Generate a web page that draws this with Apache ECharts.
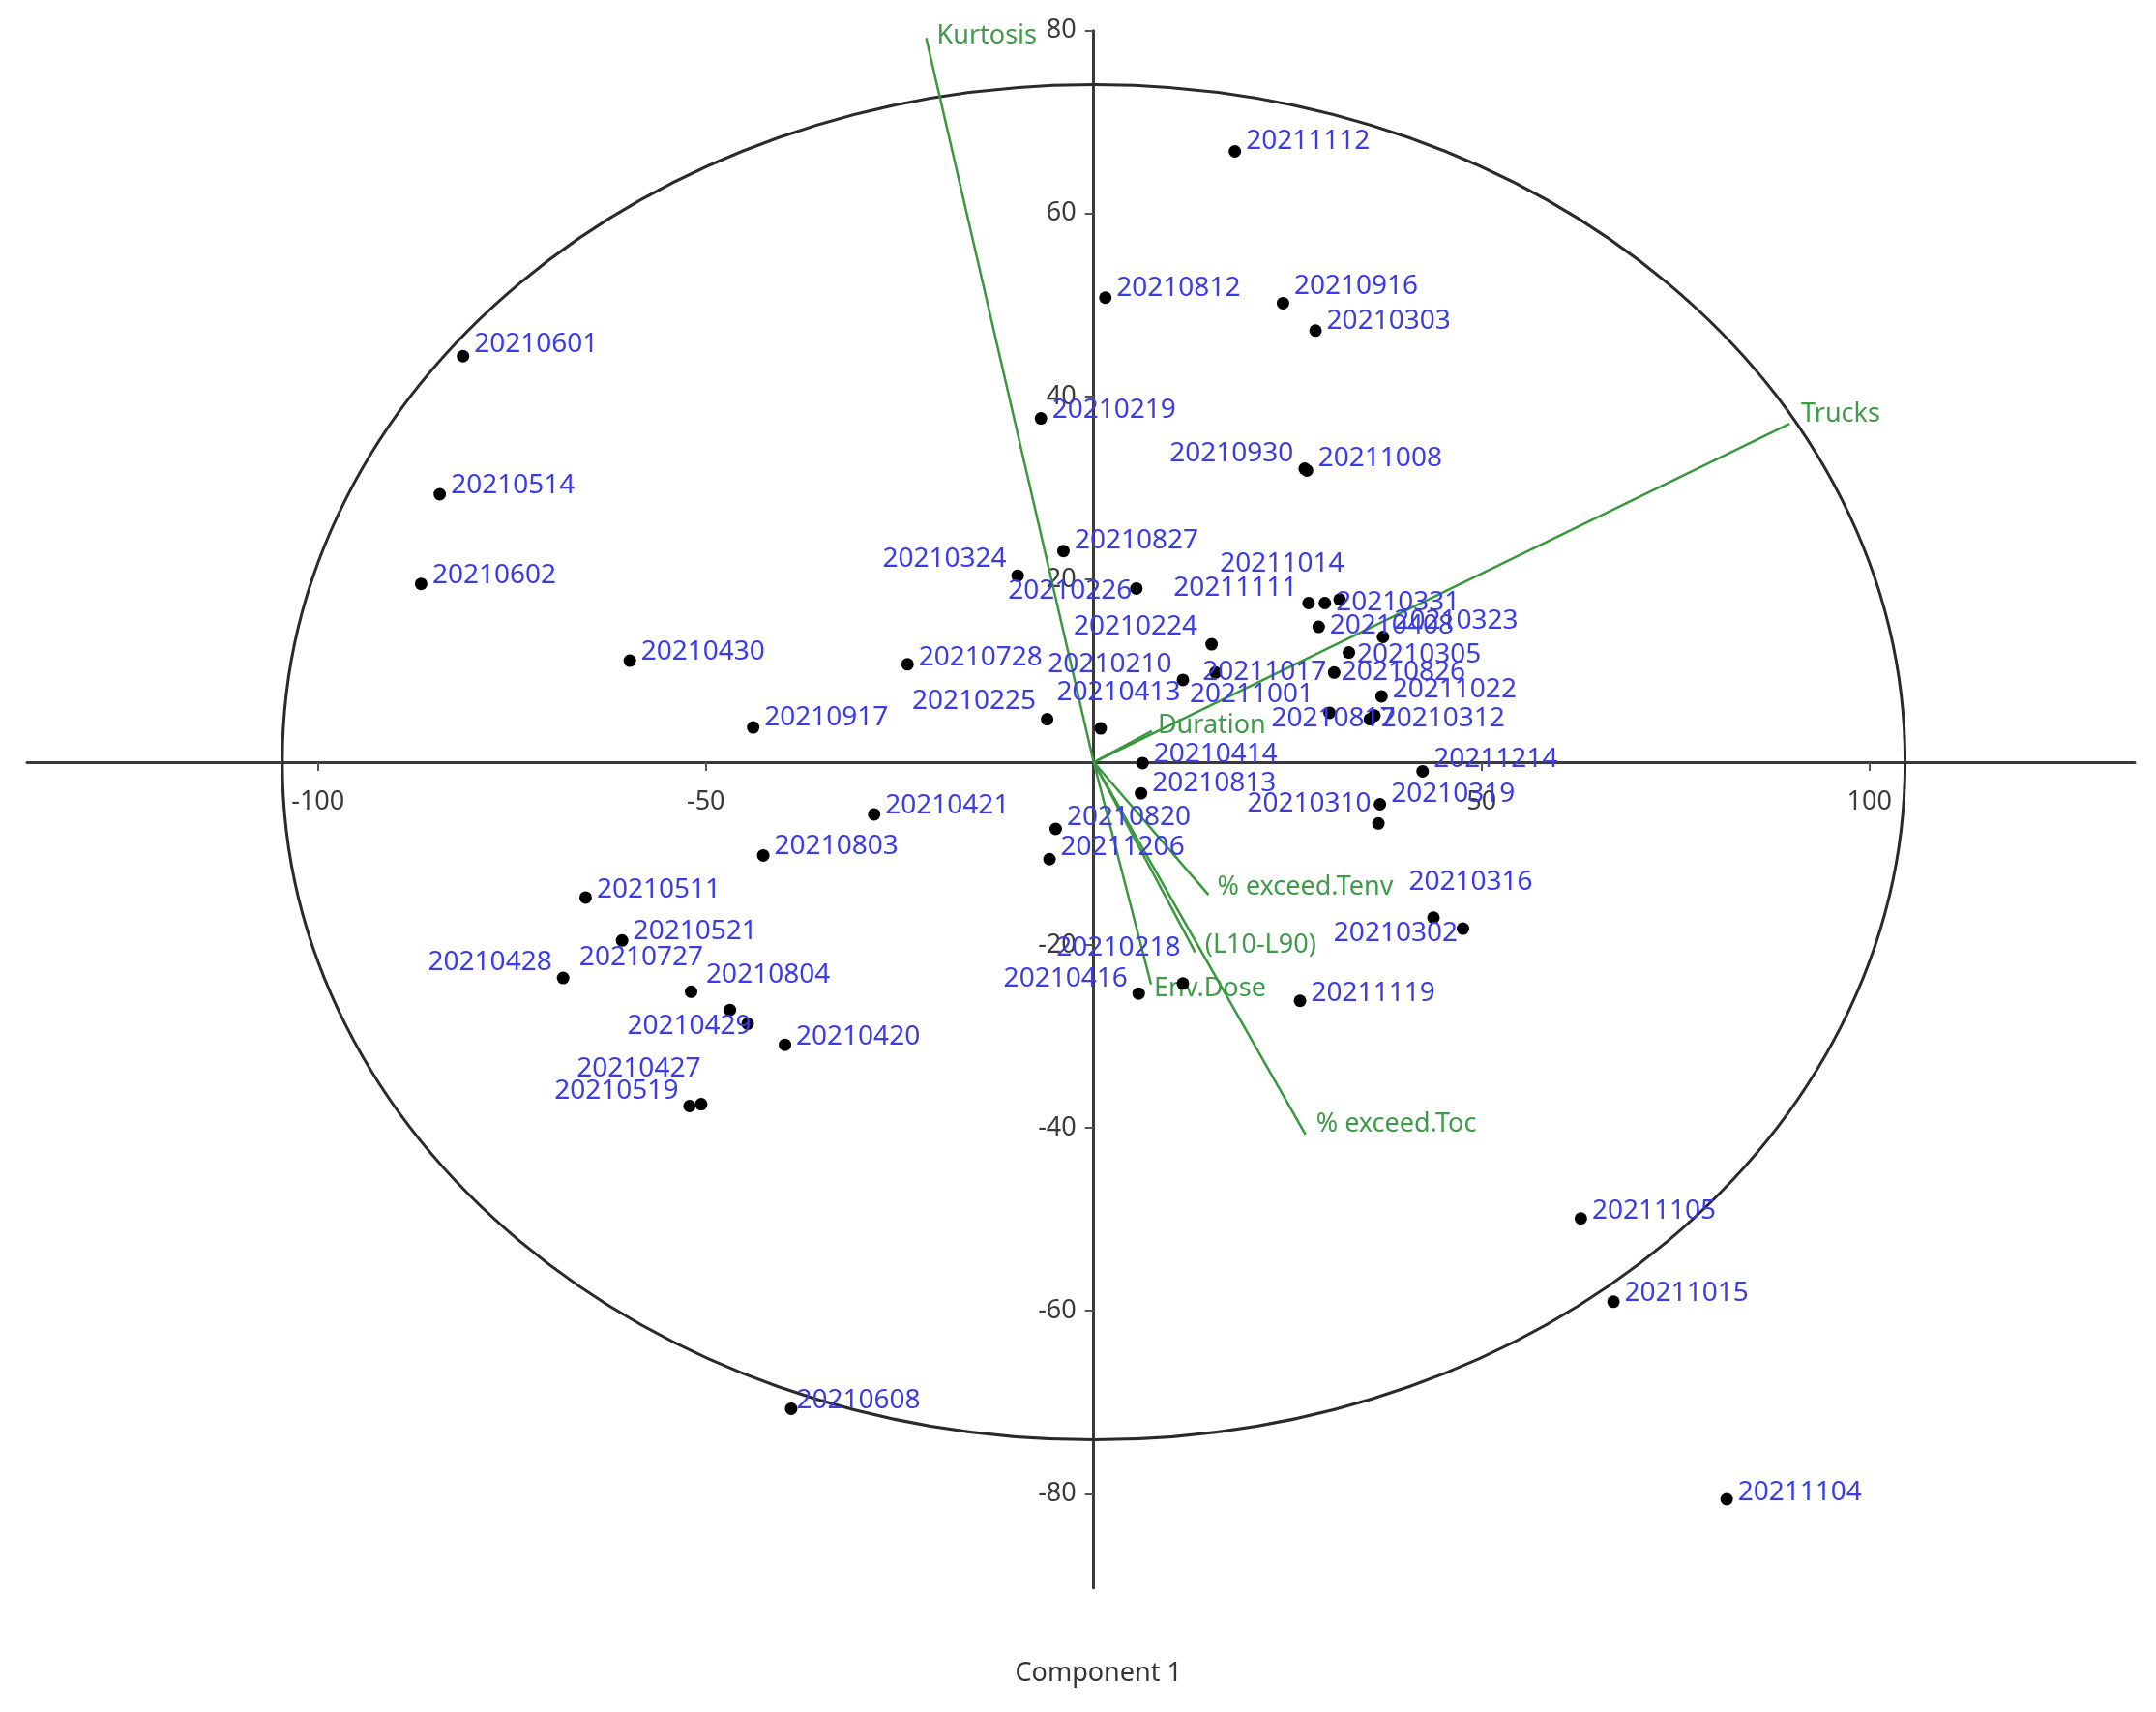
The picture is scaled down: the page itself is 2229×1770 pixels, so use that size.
<!DOCTYPE html>
<html>
<head>
<meta charset="utf-8">
<title>PCA biplot</title>
<script src="https://cdn.jsdelivr.net/npm/echarts@6.0.0/dist/echarts.min.js"></script>
<style>
  html, body { margin: 0; padding: 0; background: #fff; }
  #chart-container { width: 2229px; height: 1770px; }
</style>
</head>
<body>
<div id="chart-container"></div>
<script>
// sample scores (component 1, component 2)
var sampleNames = [
  '20211112', '20210812', '20210916', '20210303', '20210219', '20211008', '20210930',
  '20210601', '20210514', '20210602', '20210430', '20210917', '20210827', '20210324',
  '20210226', '20210224', '20210728', '20210210', '20210225', '20210413', '20210414',
  '20210813', '20210820', '20211206', '20211214', '20210319', '20210310', '20210316',
  '20210302', '20210218', '20210416', '20211119', '20210421', '20210803', '20210511',
  '20210521', '20210727', '20210804', '20210429', '20210420', '20210428', '20210427',
  '20210519', '20211105', '20211015', '20211104', '20210608', '20211111', '20210331',
  '20211014', '20210408', '20210323', '20210305', '20210826', '20211022', '20211001',
  '20210312', '20210817', '20211017'
];
var comp1 = [
  18.2, 1.5, 24.4, 28.6, -6.8, 27.5, 27.2,
  -81.3, -84.3, -86.7, -59.8, -43.9, -3.9, -9.8,
  5.5, 15.2, -24.0, 11.5, -6.0, 0.9, 6.3,
  6.1, -4.9, -5.7, 42.4, 36.9, 36.7, 43.8,
  47.6, 11.5, 5.8, 26.6, -28.3, -42.6, -65.5,
  -60.8, -51.9, -46.9, -44.6, -39.8, -68.4, -50.6,
  -52.1, 62.8, 67.0, 81.6, -39.0, 27.7, 29.8,
  31.7, 29.0, 37.3, 32.9, 31.0, 37.1, 30.4,
  35.6, 36.2, 15.7
];
var comp2 = [
  66.8, 50.8, 50.2, 47.2, 37.6, 31.9, 32.1,
  44.4, 29.3, 19.5, 11.1, 3.8, 23.1, 20.4,
  19.0, 12.9, 10.7, 9.0, 4.7, 3.7, -0.1,
  -3.4, -7.3, -10.6, -1.0, -4.6, -6.7, -17.0,
  -18.2, -24.2, -25.3, -26.1, -5.7, -10.2, -14.8,
  -19.5, -25.1, -27.1, -28.6, -30.9, -23.6, -37.4,
  -37.6, -49.9, -59.0, -80.6, -70.7, 17.4, 17.4,
  17.8, 14.8, 13.7, 12.0, 9.8, 7.2, 5.4,
  4.7, 5.1, 9.8
];

// variable loadings (biplot vectors)
var loadingNames = ['Kurtosis', 'Trucks', 'Duration', '% exceed.Tenv', '(L10-L90)', 'Env.Dose', '% exceed.Toc'];
var loadingX = [-21.6, 89.7, 7.5, 14.8, 13.1, 7.4, 27.3];
var loadingY = [79.2, 37.0, 3.4, -14.5, -20.8, -24.3, -40.7];

// 95% ellipse
var ellipseCentre = [0, 0];
var ellipseRadii = [104.6, 74.1];

var xTicks = [-100, -50, 50, 100];
var yTicks = [-80, -60, -40, -20, 20, 40, 60, 80];
var xRange = [-137.5, 134.2];
var yRange = [-90.3, 80];

// label placement: [side, dx, dy] in pixels, default right of point
var labelPlacement = {
  '20211112': ['right', 0, -10], '20210812': ['right', 0, -10], '20210916': ['right', 0, -17],
  '20210303': ['right', 0, -10], '20210219': ['right', 0, -9], '20211008': ['right', 0, -12],
  '20210930': ['left', 0, -16], '20210601': ['right', 0, -12], '20210514': ['right', 0, -9],
  '20210602': ['right', 0, -9], '20210430': ['right', 0, -9], '20210917': ['right', 0, -10],
  '20210827': ['right', 0, -11], '20210324': ['left', 0, -17], '20210226': ['left', 7, 3],
  '20210224': ['left', -3, -18], '20210728': ['right', 0, -7], '20210210': ['left', 0, -16],
  '20210225': ['left', 0, -19], '20210413': ['right', -57, -37], '20210414': ['right', 0, -9],
  '20210813': ['right', 0, -10], '20210820': ['right', 0, -12], '20211206': ['right', 0, -12],
  '20211214': ['right', 0, -12], '20210319': ['right', 0, -10], '20210310': ['left', 4, -20],
  '20210316': ['right', -37, -37], '20210302': ['left', 6, 5], '20210218': ['left', 9, -37],
  '20210416': ['left', 0, -15], '20211119': ['right', 0, -8], '20210421': ['right', 0, -9],
  '20210803': ['right', 0, -9], '20210511': ['right', 0, -8], '20210521': ['right', 0, -9],
  '20210727': ['left', 24, -35], '20210804': ['right', -36, -36], '20210429': ['left', 15, 3],
  '20210420': ['right', 0, -8], '20210428': ['left', 0, -16], '20210427': ['left', 11, -37],
  '20210519': ['left', 0, -15], '20211105': ['right', 0, -8], '20211015': ['right', 0, -9],
  '20211104': ['right', 0, -7], '20210608': ['right', -6, -8], '20211111': ['left', 0, -15],
  '20210331': ['right', 0, 0], '20211014': ['left', 16, -37], '20210408': ['right', 0, -1],
  '20210323': ['right', 0, -16], '20210305': ['right', -3, 2], '20210826': ['right', -4, 0],
  '20211022': ['right', 0, -7], '20211001': ['left', -5, -19], '20210312': ['right', 0, -1],
  '20210817': ['left', 33, 3], '20211017': ['right', -25, 0]
};
var loadingLabelOffset = {
  'Kurtosis': [11, -2], 'Trucks': [12, -10], 'Duration': [6, -6], '% exceed.Tenv': [9, -8],
  '(L10-L90)': [10, -7], 'Env.Dose': [3, 5], '% exceed.Toc': [11, -10]
};

var FONT = '"Noto Sans", "Open Sans", sans-serif';
var BLUE = '#3c3ce4';
var GREEN_LINE = '#3a963f';
var GREEN_TEXT = '#3f9a4a';

var W = 2229, H = 1770;
var GRID = { left: 28, right: 22, top: 31.7, bottom: 128.3 };
var gridW = W - GRID.left - GRID.right;
var gridH = H - GRID.top - GRID.bottom;
// move the axes (line, ticks, labels) so they cross at the origin
var yAxisOffset = -((0 - xRange[0]) / (xRange[1] - xRange[0])) * gridW;
var xAxisOffset = -((0 - yRange[0]) / (yRange[1] - yRange[0])) * gridH;

var scoreData = sampleNames.map(function (n, i) {
  var p = labelPlacement[n] || ['right', 0, -9];
  return {
    name: n,
    value: [comp1[i], comp2[i]],
    label: { position: p[0], offset: [p[1], p[2]] }
  };
});

var loadingData = loadingNames.map(function (n, i) {
  return [loadingX[i], loadingY[i]];
});

var dom = document.getElementById('chart-container');
var myChart = echarts.init(dom, null, { renderer: 'canvas' });

var option = {
  animation: false,
  backgroundColor: '#ffffff',
  title: {
    text: 'Component 1',
    left: GRID.left - yAxisOffset,
    top: 1712,
    textAlign: 'center',
    textStyle: { fontFamily: FONT, fontSize: 27, fontWeight: 'normal', color: '#333' }
  },
  grid: {
    left: GRID.left, right: GRID.right, top: GRID.top, bottom: GRID.bottom,
    containLabel: false,
    outerBoundsMode: 'none'
  },
  xAxis: {
    type: 'value',
    min: xRange[0],
    max: xRange[1],
    offset: xAxisOffset,
    splitLine: { show: false },
    axisLine: { onZero: false, lineStyle: { color: '#3a3a3a', width: 3 } },
    axisTick: { show: true, length: 9, customValues: xTicks, lineStyle: { color: '#555', width: 2 } },
    axisLabel: { customValues: xTicks, margin: 28, fontSize: 27, fontFamily: FONT, color: '#3a3a3a' }
  },
  yAxis: {
    type: 'value',
    min: yRange[0],
    max: yRange[1],
    offset: yAxisOffset,
    splitLine: { show: false },
    axisLine: { onZero: false, lineStyle: { color: '#3a3a3a', width: 3 } },
    axisTick: { show: true, length: 9, customValues: yTicks, lineStyle: { color: '#555', width: 2 } },
    axisLabel: { customValues: yTicks, margin: 18, fontSize: 27, fontFamily: FONT, color: '#3a3a3a' }
  },
  series: [
    {
      type: 'custom',
      name: 'ellipse',
      silent: true,
      z: 1,
      data: [[ellipseCentre[0], ellipseCentre[1], ellipseRadii[0], ellipseRadii[1]]],
      encode: { x: 0, y: 1 },
      renderItem: function (params, api) {
        var c = api.coord([api.value(0), api.value(1)]);
        var s = api.size([api.value(2), api.value(3)]);
        return {
          type: 'ellipse',
          shape: { cx: c[0], cy: c[1], rx: s[0], ry: s[1] },
          style: { fill: 'none', stroke: '#2a2a2a', lineWidth: 3 }
        };
      }
    },
    {
      type: 'custom',
      name: 'loadings',
      silent: true,
      z: 2,
      data: loadingData,
      encode: { x: 0, y: 1 },
      renderItem: function (params, api) {
        var o = api.coord([0, 0]);
        var e = api.coord([api.value(0), api.value(1)]);
        var n = loadingNames[params.dataIndex];
        var off = loadingLabelOffset[n] || [10, -8];
        return {
          type: 'group',
          children: [
            {
              type: 'line',
              shape: { x1: o[0], y1: o[1], x2: e[0], y2: e[1] },
              style: { stroke: GREEN_LINE, lineWidth: 2.5 }
            },
            {
              type: 'text',
              x: e[0] + off[0],
              y: e[1] + off[1],
              style: { text: n, fill: GREEN_TEXT, font: '27px ' + FONT, verticalAlign: 'middle', align: 'left' }
            }
          ]
        };
      }
    },
    {
      type: 'scatter',
      name: 'scores',
      z: 3,
      symbol: 'circle',
      symbolSize: 13,
      itemStyle: { color: '#000', opacity: 1 },
      data: scoreData,
      label: {
        show: true,
        formatter: '{b}',
        distance: 5,
        color: BLUE,
        fontSize: 28,
        fontFamily: FONT
      }
    }
  ]
};

myChart.setOption(option);
window.addEventListener('resize', myChart.resize);
</script>
</body>
</html>
